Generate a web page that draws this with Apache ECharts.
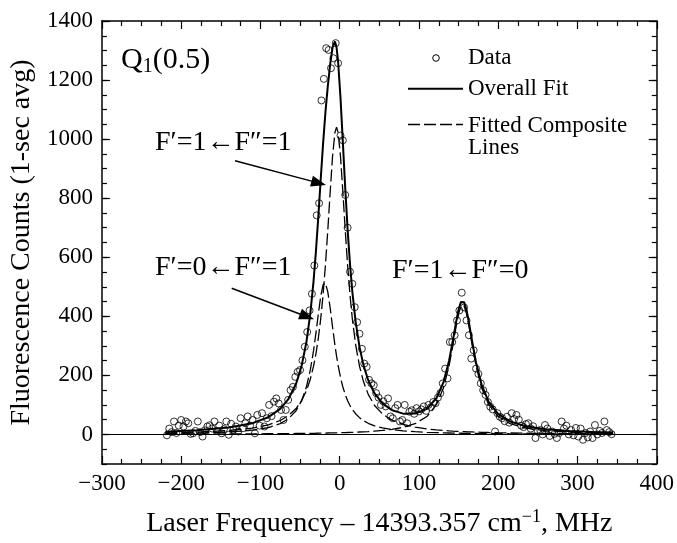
<!DOCTYPE html>
<html>
<head>
<meta charset="utf-8">
<script src="https://cdn.jsdelivr.net/npm/echarts@6/dist/echarts.min.js"></script>
<style>
  html, body { margin: 0; padding: 0; background: #fff; }
  #chart { width: 677px; height: 543px; }
</style>
</head>
<body>
<div id="chart"></div>
<script>
// ---------- data ----------
var curveX = [-220,-180,-140,-110,-90,-75,-65,-55,-48,-42,-37,-33,-30,-27,-24,-21,-18,-15,-12,-9,-6,-4,-2,1,4,7,10,13,16,20,25,30,36,44,54,66,80,95,110,122,131,138,143,147,150,153,155,157,160,163,167,172,179,188,200,215,235,260,290,320,345];

var overallFit = [9.4,14.0,23.3,38.3,58.5,86.6,118.5,171.6,232.6,312.8,411.1,518.7,619.3,735.8,861.1,983.3,1090.3,1179.4,1254.0,1310.8,1330.7,1311.5,1262.5,1141.1,988.2,833.1,693.8,577.0,481.9,384.1,296.3,234.7,183.5,138.9,105.1,82.5,70.5,70.6,86.9,122.6,177.3,249.8,320.7,382.7,423.2,448.8,453.9,448.1,421.5,380.0,316.6,244.0,169.0,110.5,69.2,43.8,27.5,17.7,11.9,8.6,6.9];

var compLine1 = [5.3,8.0,13.3,21.8,32.7,47.3,63.1,87.9,114.8,148.4,188.0,231.1,272.7,324.8,390.2,472.1,572.7,691.7,821.2,942.0,1023.0,1040.0,1023.0,942.0,821.2,691.7,572.7,472.1,390.2,306.1,231.1,179.0,135.8,98.2,69.3,48.6,34.2,24.9,18.9,15.5,13.5,12.2,11.4,10.8,10.4,10.0,9.8,9.6,9.2,8.9,8.5,8.0,7.4,6.7,6.0,5.2,4.4,3.6,2.9,2.4,2.1];

var compLine2 = [3.0,4.7,8.3,14.5,23.4,36.6,52.5,80.5,114.4,160.8,219.3,283.6,342.5,406.7,466.5,506.6,512.9,482.8,427.8,363.6,302.3,265.9,233.8,193.2,160.8,135.0,114.4,97.9,84.4,70.3,56.9,46.8,37.9,29.4,22.2,16.6,12.3,9.4,7.3,6.2,5.4,5.0,4.7,4.5,4.3,4.2,4.1,4.0,3.8,3.7,3.6,3.4,3.1,2.9,2.6,2.3,1.9,1.6,1.3,1.1,0.9];

var compLine3 = [1.0,1.3,1.6,2.0,2.4,2.7,2.9,3.2,3.4,3.6,3.8,4.0,4.1,4.3,4.4,4.6,4.7,4.9,5.1,5.2,5.4,5.6,5.7,5.9,6.2,6.4,6.7,7.0,7.3,7.7,8.3,8.9,9.8,11.3,13.6,17.3,24.0,36.3,60.7,100.9,158.4,232.6,304.6,367.4,408.5,434.6,440.0,434.6,408.5,367.4,304.6,232.6,158.4,100.9,60.7,36.3,21.2,12.6,7.7,5.2,3.9];

var dataPoints = [
[-218,-3],[-215,20],[-212,8],[-209,44],[-206,5],[-203,30],[-200,49],[-197,27],[-194,44],[-191,38],
[-188,2],[-185,4],[-182,12],[-179,44],[-176,8],[-173,-7],[-170,14],[-167,27],[-164,31],[-161,20],
[-158,44],[-155,12],[-152,30],[-149,4],[-146,18],[-143,44],[-140,-1],[-137,36],[-134,16],[-131,27],
[-128,10],[-125,55],[-122,21],[-119,38],[-116,61],[-113,30],[-110,49],[-107,4],[-104,66],[-101,30],
[-98,72],[-95,27],[-92,55],[-89,100],[-86,62],[-83,111],[-80,122],[-77,105],[-74,83],[-71,49],
[-68,83],[-65,117],[-62,150],[-59,161],[-56,195],[-53,212],[-50,218],[-47,251],[-44,297],[-41,347],
[-38,420],[-35,476],[-32,572],[-29,742],[-26,783],[-23,1131],[-20,1204],[-17,1308],[-14,1302],[-11,1240],
[-8,1274],[-5,1325],[-2,1257],[1,1012],[4,996],[7,811],[10,700],[13,551],[16,510],[19,431],
[22,380],[25,341],[28,290],[31,240],[34,229],[37,185],[40,173],[43,167],[46,140],[49,125],
[52,100],[55,112],[58,95],[61,122],[64,61],[67,55],[70,89],[73,100],[76,44],[79,49],
[82,100],[85,38],[88,77],[91,82],[94,70],[97,89],[100,78],[103,85],[106,95],[109,80],
[112,100],[115,92],[118,110],[121,106],[124,125],[127,140],[130,173],[133,223],[136,190],[139,313],
[142,313],[145,336],[148,386],[151,420],[154,480],[157,430],[160,386],[163,336],[166,257],[169,285],
[172,223],[175,205],[178,173],[181,150],[184,134],[187,110],[190,94],[193,85],[196,10],[199,72],
[202,60],[205,55],[208,45],[211,60],[214,40],[217,72],[220,52],[223,66],[226,50],[229,30],
[232,25],[235,35],[238,38],[241,20],[244,28],[247,-12],[250,10],[253,15],[256,0],[259,32],
[262,20],[265,-5],[268,10],[271,2],[274,-12],[277,5],[280,44],[283,20],[286,30],[289,0],
[292,15],[295,-3],[298,22],[301,-7],[304,20],[307,-18],[310,5],[313,-10],[316,10],[319,-12],
[322,32],[325,0],[328,12],[331,5],[334,44],[337,15],[340,8],[343,1]
];

var yMajorTicks = [0,200,400,600,800,1000,1200,1400];

// ---------- chart ----------
var FONT = '"Liberation Serif", "Times New Roman", serif';
var chart = echarts.init(document.getElementById('chart'), null, {renderer: 'canvas'});

function pairs(ys) { return curveX.map(function (x, i) { return [x, ys[i]]; }); }

var axisLineStyle = {color: '#000', width: 1.5};
var tickStyle = {color: '#000', width: 1.2};

function xAx(pos, withLabels) {
  return {
    type: 'value', position: pos, min: -300, max: 400, interval: 100,
    axisLine: {show: true, onZero: false, lineStyle: axisLineStyle},
    axisTick: {show: true, inside: true, length: 8, lineStyle: tickStyle},
    minorTick: {show: true, splitNumber: 4, length: 5, lineStyle: tickStyle},
    splitLine: {show: false},
    axisLabel: withLabels ? {
      show: true, margin: 8, color: '#000', fontSize: 23, fontFamily: FONT,
      formatter: function (v) { return String(v).replace('-', '\u2212'); }
    } : {show: false},
    name: withLabels ? '{a|Laser Frequency \u2013 14393.357 cm}{s|\u22121}{a|, MHz}' : '',
    nameLocation: 'middle', nameGap: 44,
    nameTextStyle: {
      color: '#000', fontFamily: FONT, fontSize: 28,
      rich: {
        a: {fontSize: 28, fontFamily: FONT, color: '#000', lineHeight: 32},
        s: {fontSize: 18, fontFamily: FONT, color: '#000', verticalAlign: 'top', lineHeight: 32}
      }
    }
  };
}

function yAx(pos, withLabels, major) {
  var o = {
    type: 'value', position: pos, offset: 0, min: -100, max: 1400, interval: 100,
    axisLine: {show: !major, onZero: false, lineStyle: axisLineStyle},
    axisTick: {show: true, inside: true, length: major ? 8 : 5, lineStyle: tickStyle},
    minorTick: {show: !major, splitNumber: 2, length: 5, lineStyle: tickStyle},
    splitLine: {show: false},
    axisLabel: {show: false}
  };
  if (major) { o.axisTick.customValues = yMajorTicks; }
  if (withLabels) {
    o.axisLabel = {
      show: true, margin: 9, color: '#000', fontSize: 23, fontFamily: FONT,
      formatter: function (v) { return (v % 200 === 0) ? String(v) : ''; }
    };
    o.name = 'Fluorescence Counts (1-sec avg)';
    o.nameLocation = 'middle';
    o.nameGap = 62;
    o.nameTextStyle = {color: '#000', fontFamily: FONT, fontSize: 28};
  }
  return o;
}

function arrow(x1, y1, tx, ty) {
  var dx = tx - x1, dy = ty - y1, L = Math.sqrt(dx * dx + dy * dy);
  var ux = dx / L, uy = dy / L, hl = 15, hw = 5.5;
  var bx = tx - ux * hl, by = ty - uy * hl;
  return [
    {type: 'line', shape: {x1: x1, y1: y1, x2: bx + ux * 2, y2: by + uy * 2},
     style: {stroke: '#000', lineWidth: 1.5}, z: 10},
    {type: 'polygon', shape: {points: [[tx, ty], [bx - uy * hw, by + ux * hw], [bx + uy * hw, by - ux * hw]]},
     style: {fill: '#000'}, z: 10}
  ];
}

function txt(x, y, text, size, rich) {
  var st = {text: text, x: x, y: y, fill: '#000', font: size + 'px ' + FONT,
            align: 'left', verticalAlign: 'middle'};
  if (rich) { st.rich = rich; }
  return {type: 'text', style: st, z: 10};
}

var graphics = [];
graphics.push(txt(121, 60, '{q|Q}{s|1}{q|(0.5)}', 30, {
  q: {fontSize: 30, fontFamily: FONT, fill: '#000', lineHeight: 34},
  s: {fontSize: 20, fontFamily: FONT, fill: '#000', verticalAlign: 'bottom', lineHeight: 34}
}));
graphics.push(txt(155, 143, 'F\u2032=1\u2190F\u2033=1', 28));
graphics.push(txt(155, 268, 'F\u2032=0\u2190F\u2033=1', 28));
graphics.push(txt(392, 271, 'F\u2032=1\u2190F\u2033=0', 28));
graphics = graphics.concat(arrow(235, 160.7, 326, 185));
graphics = graphics.concat(arrow(231.7, 288.3, 314, 319.3));
// legend
graphics.push({type: 'circle', shape: {cx: 436, cy: 58, r: 3.3}, style: {fill: 'none', stroke: '#000', lineWidth: 1}, z: 10});
graphics.push(txt(468, 57.5, 'Data', 23));
graphics.push({type: 'line', shape: {x1: 408, y1: 88.7, x2: 463, y2: 88.7}, style: {stroke: '#000', lineWidth: 2}, z: 10});
graphics.push(txt(468, 89.3, 'Overall Fit', 23));
graphics.push({type: 'line', shape: {x1: 408, y1: 124.5, x2: 463, y2: 124.5}, style: {stroke: '#000', lineWidth: 1.3, lineDash: [12, 4]}, z: 10});
graphics.push(txt(468, 125.6, 'Fitted Composite', 23));
graphics.push(txt(468, 147.6, 'Lines', 23));

var dashed = {color: '#000', width: 1.3, type: [12, 4]};

var option = {
  animation: false,
  backgroundColor: '#fff',
  grid: {left: 101, right: 19, top: 21, bottom: 77, containLabel: false},
  xAxis: [xAx('bottom', true), xAx('top', false)],
  yAxis: [yAx('left', true, false), yAx('left', false, true), yAx('right', false, false), yAx('right', false, true)],
  graphic: graphics,
  series: [
    {type: 'line', name: 'Fitted Composite Lines', data: pairs(compLine1), showSymbol: false, symbol: 'none',
     lineStyle: dashed, z: 3,
     markLine: {silent: true, symbol: ['none', 'none'], label: {show: false},
                lineStyle: {color: '#000', width: 1, type: 'solid'}, data: [{yAxis: 0}]}},
    {type: 'line', name: 'Fitted Composite Lines 2', data: pairs(compLine2), showSymbol: false, symbol: 'none',
     lineStyle: dashed, z: 3},
    {type: 'line', name: 'Fitted Composite Lines 3', data: pairs(compLine3), showSymbol: false, symbol: 'none',
     lineStyle: dashed, z: 3},
    {type: 'line', name: 'Overall Fit', data: pairs(overallFit), showSymbol: false, symbol: 'none',
     lineStyle: {color: '#000', width: 2}, z: 4},
    {type: 'scatter', name: 'Data', data: dataPoints, symbol: 'circle', symbolSize: 7,
     itemStyle: {color: 'rgba(0,0,0,0)', borderColor: '#000', borderWidth: 1}, z: 5}
  ]
};
chart.setOption(option);
</script>
</body>
</html>
